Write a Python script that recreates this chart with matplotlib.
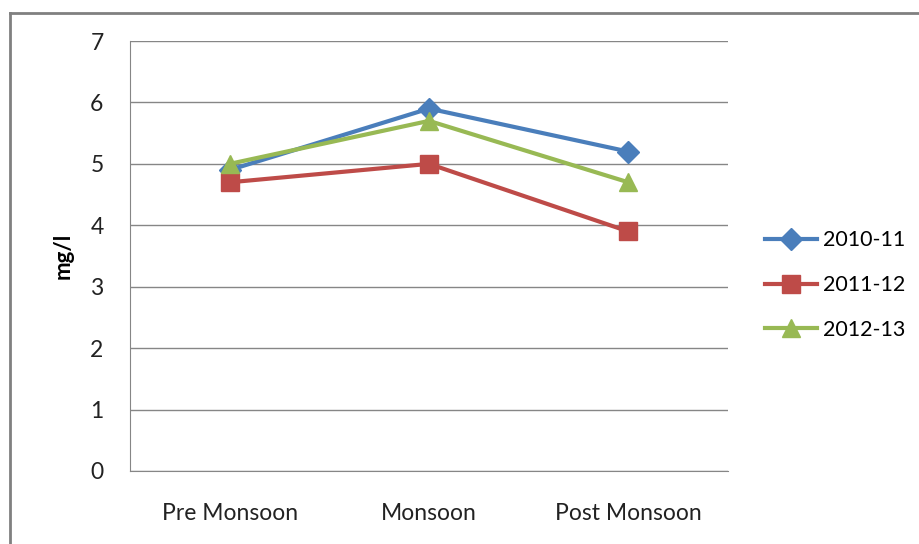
import matplotlib.pyplot as plt
from matplotlib.lines import Line2D

plt.rcParams['font.family'] = ['Lato', 'DejaVu Sans']

# seasons along the x axis and the three yearly series (mg/l)
seasons = ["Pre Monsoon", "Monsoon", "Post Monsoon"]
years = ["2010-11", "2011-12", "2012-13"]
vals_2010_11 = [4.9, 5.9, 5.2]
vals_2011_12 = [4.7, 5.0, 3.9]
vals_2012_13 = [5.0, 5.7, 4.7]
y_ticks = [0, 1, 2, 3, 4, 5, 6, 7]

fig = plt.figure(figsize=(9.2, 5.44), dpi=100)
ax = fig.add_axes([0.1413, 0.1342, 0.65, 0.7904])

x = range(len(seasons))
ax.plot(x, vals_2010_11, color='#4A7EBB', lw=3, marker='D', ms=11, label=years[0])
ax.plot(x, vals_2011_12, color='#BE4B48', lw=3, marker='s', ms=13, label=years[1])
ax.plot(x, vals_2012_13, color='#98B954', lw=3, marker='^', ms=13, label=years[2])

ax.set_xlim(-0.5, 2.5)
ax.set_ylim(0, 7)
ax.set_yticks(y_ticks)
ax.set_xticks(list(x))
ax.set_xticklabels(seasons)
ax.yaxis.grid(True, color='#868686', lw=1)
ax.set_axisbelow(True)
ax.tick_params(length=0, labelsize=16.5, colors='#222222')
ax.tick_params(axis='x', pad=23)
ax.tick_params(axis='y', pad=19)
for s in ['top', 'right']:
    ax.spines[s].set_visible(False)
for s in ['left', 'bottom']:
    ax.spines[s].set_color('#868686')
ax.set_ylabel("mg/l", fontsize=16, fontweight='bold', labelpad=12)

ax.legend(loc='center left', bbox_to_anchor=(1.03, 0.432), frameon=False,
          fontsize=15.5, handlelength=2.4, labelspacing=1.15, handletextpad=0.3)

# chart frame: only its top and left edges fall inside the image
fig.add_artist(Line2D([10/920, 1], [1 - 13/544] * 2, color='#808080', lw=2))
fig.add_artist(Line2D([10/920] * 2, [0, 1 - 13/544], color='#808080', lw=2))

fig.savefig('out.png', dpi=100)
